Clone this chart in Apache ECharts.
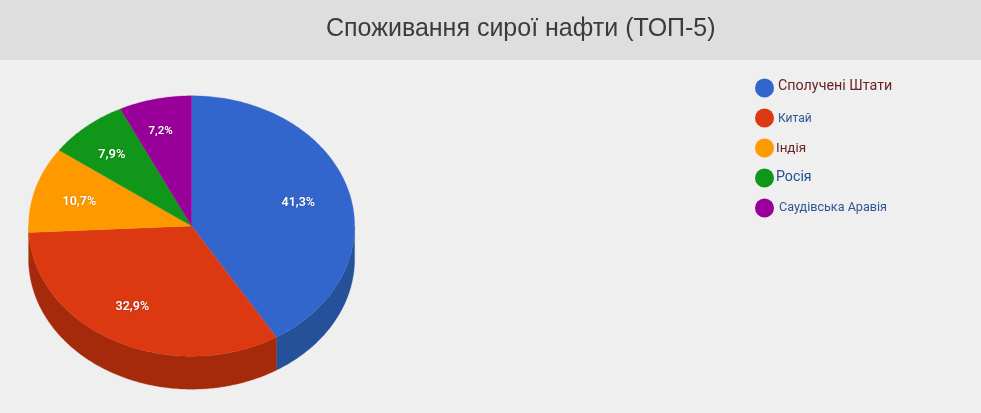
<!DOCTYPE html>
<html><head><meta charset="utf-8">
<style>html,body{margin:0;padding:0;background:#efefef}#c{width:981px;height:413px}</style>
<script src="https://cdn.jsdelivr.net/npm/echarts@6/dist/echarts.min.js"></script>
</head><body><div id="c"></div>
<script>
const categories = ['Сполучені Штати','Китай','Індія','Росія','Саудівська Аравія'];
const shares = [41.3,32.9,10.7,7.9,7.2];
const chartTitle = 'Споживання сирої нафти (ТОП-5)';

const colors = ['#3366cc','#dc3912','#ff9900','#109618','#990099'];
const wallColors = ['#25509a','#a52a0c','#b36b00','#0b690f','#6b006b'];
const labelSize = [12.5,12.5,12.5,13,11.5];
const labelNudge = [[-1,6],[-1,1],[3,6],[-1,5],[-1,1]];
const P = {cx:191.6, cy:226, rx:163, ry:130.2, depth:33};

const total = shares.reduce((a,b)=>a+b,0);
let acc = 0;
const starts = shares.map(v=>{const s=acc; acc+=v; return s;});
const pt = (deg,dy=0)=>{const a=deg*Math.PI/180; return [P.cx+P.rx*Math.sin(a), P.cy-P.ry*Math.cos(a)+dy];};
const arc = (a0,a1,dy=0)=>{const n=Math.max(2,Math.ceil((a1-a0)/0.75)),o=[];for(let i=0;i<=n;i++)o.push(pt(a0+(a1-a0)*i/n,dy));return o;};

function renderSlice(i){
  return function(params,api){
    const a0 = api.value(0)/total*360, a1 = a0 + api.value(1)/total*360;
    const children = [];
    const w0 = Math.max(a0,90), w1 = Math.min(a1,270);
    if (w1 > w0) {
      children.push({type:'polygon',shape:{points:arc(w0,w1).concat(arc(w0,w1,P.depth).reverse())},
        style:{fill:wallColors[i],stroke:wallColors[i],lineWidth:0.3}});
    }
    children.push({type:'polygon',shape:{points:[[P.cx,P.cy]].concat(arc(a0,a1))},
      style:{fill:colors[i],stroke:colors[i],lineWidth:0.3}});
    const mid=(a0+a1)/2*Math.PI/180;
    children.push({type:'text',z2:10,style:{
      x:P.cx+116*Math.sin(mid)-4+labelNudge[i][0], y:P.cy-95*Math.cos(mid)-3.7+labelNudge[i][1],
      text:api.value(1).toFixed(1).replace('.',',')+'%',
      fill:'#fff',font:'600 '+labelSize[i]+'px Roboto, sans-serif',
      textShadowColor:'rgba(0,0,0,0.25)',textShadowBlur:2,
      align:'center',verticalAlign:'middle'}});
    return {type:'group',children};
  };
}

const legendStyles = {
  a:{fontFamily:'Roboto',fontSize:14.3,color:'#6a2222',padding:[0,0,4,-1],lineHeight:14},
  b:{fontFamily:'Roboto',fontSize:12,color:'#2f5597',padding:[2,0,0,-1],lineHeight:12},
  c:{fontFamily:'Roboto',fontSize:13.4,color:'#6a2222',padding:[2,0,0,-3],lineHeight:13},
  d:{fontFamily:'Roboto',fontSize:14.2,color:'#1f4e96',padding:[0,0,2,-3],lineHeight:14},
  e:{fontFamily:'Roboto',fontSize:12.6,color:'#2f5597',padding:[0,0,0,0],lineHeight:13}
};
const keys=['a','b','c','d','e'];

const chart = echarts.init(document.getElementById('c'),null,{renderer:'canvas'});
chart.setOption({
  animation:false,
  backgroundColor:'#efefef',
  title:{text:chartTitle,left:326,top:17,padding:0,
    textStyle:{fontFamily:'Liberation Sans',fontSize:25,fontWeight:'normal',color:'#3b3b3b'}},
  graphic:[{type:'rect',z:-1,silent:true,shape:{x:0,y:0,width:981,height:60},style:{fill:'#dedede'}}],
  legend:{orient:'vertical',left:755,top:78.5,padding:0,itemWidth:19,itemHeight:19,itemGap:11,icon:'circle',
    selectedMode:false,data:categories,
    formatter:n=>`{${keys[categories.indexOf(n)]}|${n}}`,
    textStyle:{rich:legendStyles}},
  series:categories.map((name,i)=>({
    type:'custom',name,coordinateSystem:'none',silent:true,
    itemStyle:{color:colors[i]},
    renderItem:renderSlice(i),
    data:[[starts[i],shares[i]]]
  }))
});
</script></body></html>
